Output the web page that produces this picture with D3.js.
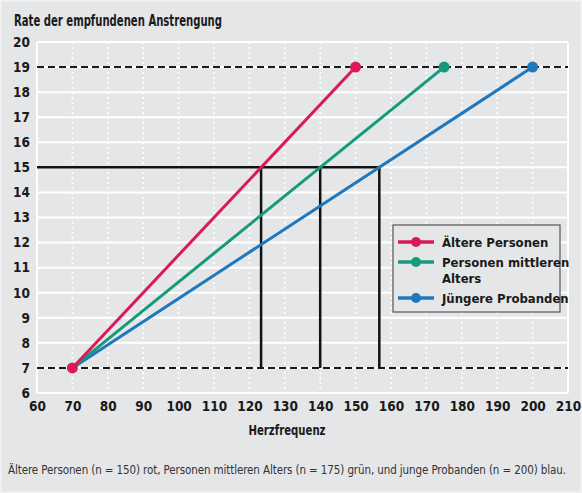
<!DOCTYPE html>
<html><head><meta charset="utf-8">
<script src="https://cdn.jsdelivr.net/npm/d3@7"></script>
<style>
body{margin:0;padding:0;background:#fff;}
svg{display:block;}
text{font-family:"Liberation Sans Narrow","DejaVu Sans Condensed","Open Sans",sans-serif;}
</style></head>
<body>
<svg id="c" width="582" height="493"></svg>
<script>
const xTicks = [60,70,80,90,100,110,120,130,140,150,160,170,180,190,200,210];
const yTicks = [6,7,8,9,10,11,12,13,14,15,16,17,18,19,20];
const seriesNames = ["Ältere Personen","Personen mittleren Alters","Jüngere Probanden"];
const seriesColors = ["#d9195a","#159a7c","#1f78bd"];
const startPoint = [70,7];
const endHR = [150,175,200];
const endRPE = [19,19,19];
const refRPE = 15;
const crossHR = [123.3,140,156.7];
const dashedRPE = [19,7];
const titleText = "Rate der empfundenen Anstrengung";
const xTitle = "Herzfrequenz";
const caption = "Ältere Personen (n = 150) rot, Personen mittleren Alters (n = 175) grün, und junge Probanden (n = 200) blau.";

const svg = d3.select("#c");
svg.append("rect").attr("x",0).attr("y",0).attr("width",582).attr("height",493).attr("fill","#e5e6e8")
  .attr("stroke","#f3f3f4").attr("stroke-width",3);

const x = d3.scaleLinear().domain([60,210]).range([37,568]);
const y = d3.scaleLinear().domain([6,20]).range([393,42]);

// grid
svg.append("g").selectAll("line").data(yTicks).join("line")
  .attr("x1",x(60)).attr("x2",x(210)).attr("y1",d=>y(d)).attr("y2",d=>y(d))
  .attr("stroke","#fff").attr("stroke-width",2);
svg.append("g").selectAll("line").data(xTicks.filter(d=>d>60&&d<210)).join("line")
  .attr("x1",d=>x(d)).attr("x2",d=>x(d)).attr("y1",y(20)).attr("y2",y(6))
  .attr("stroke","#fff").attr("stroke-width",1.6).attr("stroke-dasharray","2,3");
svg.append("line").attr("x1",x(60)).attr("x2",x(60)).attr("y1",y(20)).attr("y2",y(6)).attr("stroke","#fff").attr("stroke-width",2);
svg.append("line").attr("x1",x(210)).attr("x2",x(210)).attr("y1",y(20)).attr("y2",y(6)).attr("stroke","#fff").attr("stroke-width",2);

// axes
const xAxis = d3.axisBottom(x).tickValues(xTicks).tickSize(0).tickPadding(8);
const gx = svg.append("g").attr("transform",`translate(0,${y(6)})`).call(xAxis);
gx.select(".domain").remove();
gx.selectAll("text").attr("font-size",13.5).attr("font-weight","bold").attr("fill","#1a1a1a");
const yAxis = d3.axisLeft(y).tickValues(yTicks).tickSize(0).tickPadding(7);
const gy = svg.append("g").attr("transform",`translate(${x(60)},0)`).call(yAxis);
gy.select(".domain").remove();
gy.selectAll("text").attr("font-size",13.5).attr("font-weight","bold").attr("fill","#1a1a1a");

// dashed reference lines
svg.append("g").selectAll("line").data(dashedRPE).join("line")
  .attr("x1",x(60)).attr("x2",x(210)).attr("y1",d=>y(d)).attr("y2",d=>y(d))
  .attr("stroke","#1a1a1a").attr("stroke-width",2).attr("stroke-dasharray","7,4");

// black solid lines
svg.append("line").attr("x1",x(60)).attr("x2",x(d3.max(crossHR))+1).attr("y1",y(refRPE)).attr("y2",y(refRPE))
  .attr("stroke","#111").attr("stroke-width",2.5);
svg.append("g").selectAll("line").data(crossHR).join("line")
  .attr("x1",d=>x(d)).attr("x2",d=>x(d)).attr("y1",y(refRPE)).attr("y2",y(7))
  .attr("stroke","#111").attr("stroke-width",2.5);

// series lines
const order = [2,1,0];
order.forEach(i=>{
  svg.append("line").attr("x1",x(startPoint[0])).attr("y1",y(startPoint[1]))
    .attr("x2",x(endHR[i])).attr("y2",y(endRPE[i]))
    .attr("stroke",seriesColors[i]).attr("stroke-width",3);
  svg.append("circle").attr("cx",x(endHR[i])).attr("cy",y(endRPE[i])).attr("r",5.5).attr("fill",seriesColors[i]);
});
svg.append("circle").attr("cx",x(startPoint[0])).attr("cy",y(startPoint[1])).attr("r",5.5).attr("fill",seriesColors[0]);

// legend
const lg = svg.append("g");
lg.append("rect").attr("x",393).attr("y",225).attr("width",167).attr("height",87)
  .attr("fill","#e5e6e8").attr("stroke","#555").attr("stroke-width",1.2);
const legendRows = [[242],[262,278],[298]];
const legendLabels = [["Ältere Personen"],["Personen mittleren","Alters"],["Jüngere Probanden"]];
legendRows.forEach((rows,i)=>{
  const yy = rows[0];
  lg.append("line").attr("x1",398).attr("x2",434).attr("y1",yy).attr("y2",yy).attr("stroke",seriesColors[i]).attr("stroke-width",3.5);
  lg.append("circle").attr("cx",416).attr("cy",yy).attr("r",5).attr("fill",seriesColors[i]);
  rows.forEach((ry,j)=>{
    lg.append("text").attr("x",442).attr("y",ry).attr("dy","0.35em").attr("font-size",13).attr("font-weight","bold")
      .attr("fill","#1a1a1a").text(legendLabels[i][j]);
  });
});

// titles
svg.append("text").attr("x",14).attr("y",26).attr("font-size",15).attr("font-weight","bold").attr("fill","#1a1a1a")
  .attr("textLength",208).attr("lengthAdjust","spacingAndGlyphs").text(titleText);
svg.append("text").attr("x",287).attr("y",435).attr("text-anchor","middle").attr("font-size",14).attr("font-weight","bold").attr("fill","#1a1a1a")
  .attr("textLength",77).attr("lengthAdjust","spacingAndGlyphs").text(xTitle);
svg.append("text").attr("x",8).attr("y",474).attr("font-size",11.5).attr("fill","#333").attr("textLength",558).text(caption);
</script>
</body></html>
